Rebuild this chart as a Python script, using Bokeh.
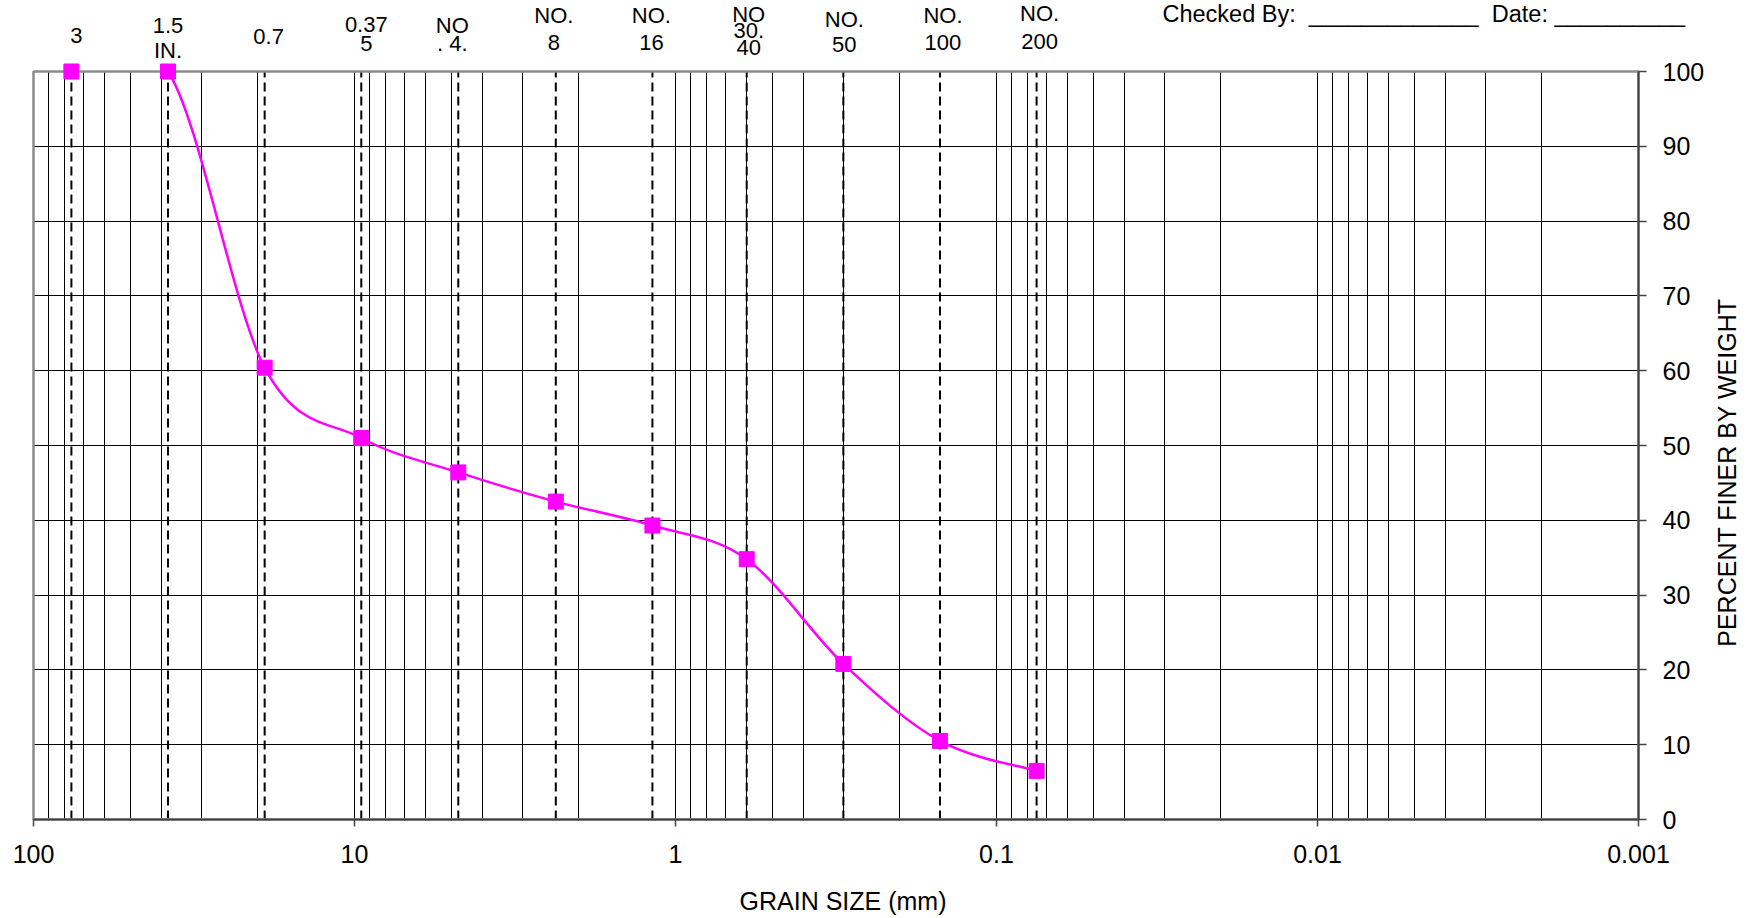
import math
from bokeh.plotting import figure
from bokeh.models import Range1d, FixedTicker, CustomJSTickFormatter, Label
from bokeh.embed import file_html
from bokeh.resources import INLINE

# ---------------- data ----------------
sieve_mm = [76.2, 38.1, 19.05, 9.525, 4.75, 2.36, 1.18, 0.6, 0.3, 0.15, 0.075]
percent_finer = [100.0, 100.0, 60.4, 51.0, 46.4, 42.5, 39.3, 34.8, 20.8, 10.5, 6.5]
sieve_labels = [["3"], ["1.5", "IN."], ["0.7"], ["0.37", "5"], ["NO", ". 4."],
                ["NO.", "8"], ["NO.", "16"], ["NO", "30.", "40"], ["NO.", "50"],
                ["NO.", "100"], ["NO.", "200"]]
x_major = [100, 10, 1, 0.1, 0.01, 0.001]
y_major = [0, 10, 20, 30, 40, 50, 60, 70, 80, 90, 100]
x_title = "GRAIN SIZE (mm)"
y_title = "PERCENT FINER BY WEIGHT"
NB = "\u00a0"
header = "Checked By:" + NB * 2 + "_" * 13 + NB * 2 + "Date:" + NB + "_" * 10

# ---------------- layout / style ----------------
W, H = 1748, 918
LEFT, TOP, PLOT_W, PLOT_H = 33, 71, 1605, 748
RIGHT = W - LEFT - PLOT_W
BOTTOM = H - TOP - PLOT_H
x_hi, x_lo = x_major[0], x_major[-1]
y_lo, y_hi = y_major[0], y_major[-1]
PX_PER_DEC = PLOT_W / (math.log10(x_hi) - math.log10(x_lo))
PX_PER_PCT = PLOT_H / (y_hi - y_lo)

label_dx = [5, 0, 4, 5, -6, -2, -1, 2, 1, 3, 3]
label_dy = [[36], [46, 21], [35], [47, 28], [46, 28], [56, 29], [56, 29],
            [57, 41, 24], [52, 27], [56, 29], [58, 30]]
FONT = "Liberation Sans"
MAGENTA = "#FF00FF"
FRAME_GREY = "#8c8c8c"
AXIS_GREY = "#444444"
y_title_pos = 46.4      # vertical centre of the right-hand title (percent units)

x_minor = [m * 10.0 ** e for e in range(-3, 2) for m in range(2, 10)]

# frame covers the whole canvas; axes are pinned to the plot-area edges
p = figure(x_axis_type="log",
           x_range=Range1d(10 ** (math.log10(x_hi) + LEFT / PX_PER_DEC),
                           10 ** (math.log10(x_lo) - RIGHT / PX_PER_DEC)),
           y_range=Range1d(y_lo - BOTTOM / PX_PER_PCT, y_hi + TOP / PX_PER_PCT),
           width=W, height=H, min_border=0, y_axis_location="right",
           output_backend="svg", toolbar_location=None,
           background_fill_color="white", border_fill_color="white")
p.title.visible = False
p.outline_line_color = None

xa = p.xaxis[0]
xa.fixed_location = y_lo
xa.bounds = (x_lo, x_hi)
xa.ticker = FixedTicker(ticks=x_major, minor_ticks=x_minor)
xa.formatter = CustomJSTickFormatter(code="return tick.toString()")
xa.major_tick_out = 7
xa.major_tick_in = 0
xa.minor_tick_out = 0
xa.minor_tick_in = 0
xa.axis_line_color = AXIS_GREY
xa.axis_line_width = 2
xa.major_tick_line_color = AXIS_GREY
xa.major_tick_line_width = 1.5
xa.major_label_standoff = 18
xa.major_label_text_font = FONT
xa.major_label_text_font_size = "25px"
xa.major_label_text_color = "black"

ya = p.yaxis[0]
ya.fixed_location = x_lo
ya.bounds = (y_lo, y_hi)
ya.ticker = FixedTicker(ticks=y_major)
ya.major_tick_out = 8
ya.major_tick_in = 0
ya.minor_tick_out = 0
ya.minor_tick_in = 0
ya.axis_line_color = AXIS_GREY
ya.axis_line_width = 2
ya.major_tick_line_color = AXIS_GREY
ya.major_tick_line_width = 1.5
ya.major_label_standoff = 16
ya.major_label_text_font = FONT
ya.major_label_text_font_size = "25px"
ya.major_label_text_color = "black"

# grids limited to the plot area
try:
    p.xgrid.cross_bounds = (y_lo, y_hi)
    p.ygrid.cross_bounds = (x_lo, x_hi)
    p.xgrid.grid_line_color = "black"
    p.xgrid.grid_line_width = 1
    p.xgrid.minor_grid_line_color = "black"
    p.xgrid.minor_grid_line_width = 1
    p.ygrid.grid_line_color = "black"
    p.ygrid.grid_line_width = 1
except Exception:
    p.xgrid.visible = False
    p.ygrid.visible = False
    gx = list(x_major) + list(x_minor)
    p.segment(x0=gx, y0=[y_lo] * len(gx), x1=gx, y1=[y_hi] * len(gx),
              line_color="black", line_width=1, level="underlay")
    p.segment(x0=[x_hi] * len(y_major), y0=y_major, x1=[x_lo] * len(y_major), y1=y_major,
              line_color="black", line_width=1, level="underlay")

# sieve lines
ns = len(sieve_mm)
p.segment(x0=sieve_mm, y0=[y_lo] * ns, x1=sieve_mm, y1=[y_hi] * ns,
          line_color="black", line_width=2, line_dash="9 5")

# smooth curve: Catmull-Rom bezier segments built from the data points
# (segments lying on the 100 % edge are hidden by the plot-area edge, as in the original)
L = [math.log10(v) for v in sieve_mm]
Y = percent_finer
n = len(L)
bx0, by0, bx1, by1, cx0, cy0, cx1, cy1 = [], [], [], [], [], [], [], []
for i in range(n - 1):
    if Y[i] >= y_hi and Y[i + 1] >= y_hi:
        continue
    ip, inx = max(i - 1, 0), min(i + 2, n - 1)
    bx0.append(sieve_mm[i]); by0.append(Y[i])
    bx1.append(sieve_mm[i + 1]); by1.append(Y[i + 1])
    cx0.append(10 ** (L[i] + (L[i + 1] - L[ip]) / 6.0))
    cy0.append(min(y_hi, Y[i] + (Y[i + 1] - Y[ip]) / 6.0))
    cx1.append(10 ** (L[i + 1] - (L[inx] - L[i]) / 6.0))
    cy1.append(min(y_hi, Y[i + 1] - (Y[inx] - Y[i]) / 6.0))
p.bezier(x0=bx0, y0=by0, x1=bx1, y1=by1, cx0=cx0, cy0=cy0, cx1=cx1, cy1=cy1,
         line_color=MAGENTA, line_width=2.5)

# plot-area border
p.quad(left=[x_hi], right=[x_lo], bottom=[y_lo], top=[y_hi],
       fill_color=None, line_color=FRAME_GREY, line_width=2.5)

p.scatter(sieve_mm, percent_finer, marker="square", size=15,
          fill_color=MAGENTA, line_color=MAGENTA)

# sieve names above the plot area
for s, lines, dx, dys in zip(sieve_mm, sieve_labels, label_dx, label_dy):
    for t, dy in zip(lines, dys):
        p.add_layout(Label(x=s, y=y_hi, x_offset=dx, y_offset=dy, text=t,
                           text_align="center", text_baseline="middle",
                           text_font=FONT, text_font_size="22px", text_color="black"))

# header
p.add_layout(Label(x=x_major[4], y=y_hi, x_offset=-155, y_offset=TOP - 13, text=header,
                   text_align="left", text_baseline="middle",
                   text_font=FONT, text_font_size="23.5px", text_color="black"))

# axis titles
p.add_layout(Label(x=10 ** ((math.log10(x_hi) + math.log10(x_lo)) / 2), y=y_lo,
                   x_offset=7, y_offset=-81, text=x_title,
                   text_align="center", text_baseline="middle",
                   text_font=FONT, text_font_size="25px", text_color="black"))
p.add_layout(Label(x=x_lo, y=y_title_pos, x_offset=88, text=y_title, angle=math.pi / 2,
                   text_align="center", text_baseline="middle",
                   text_font=FONT, text_font_size="25px", text_color="black"))

open("out.html", "w").write(file_html(p, INLINE))
